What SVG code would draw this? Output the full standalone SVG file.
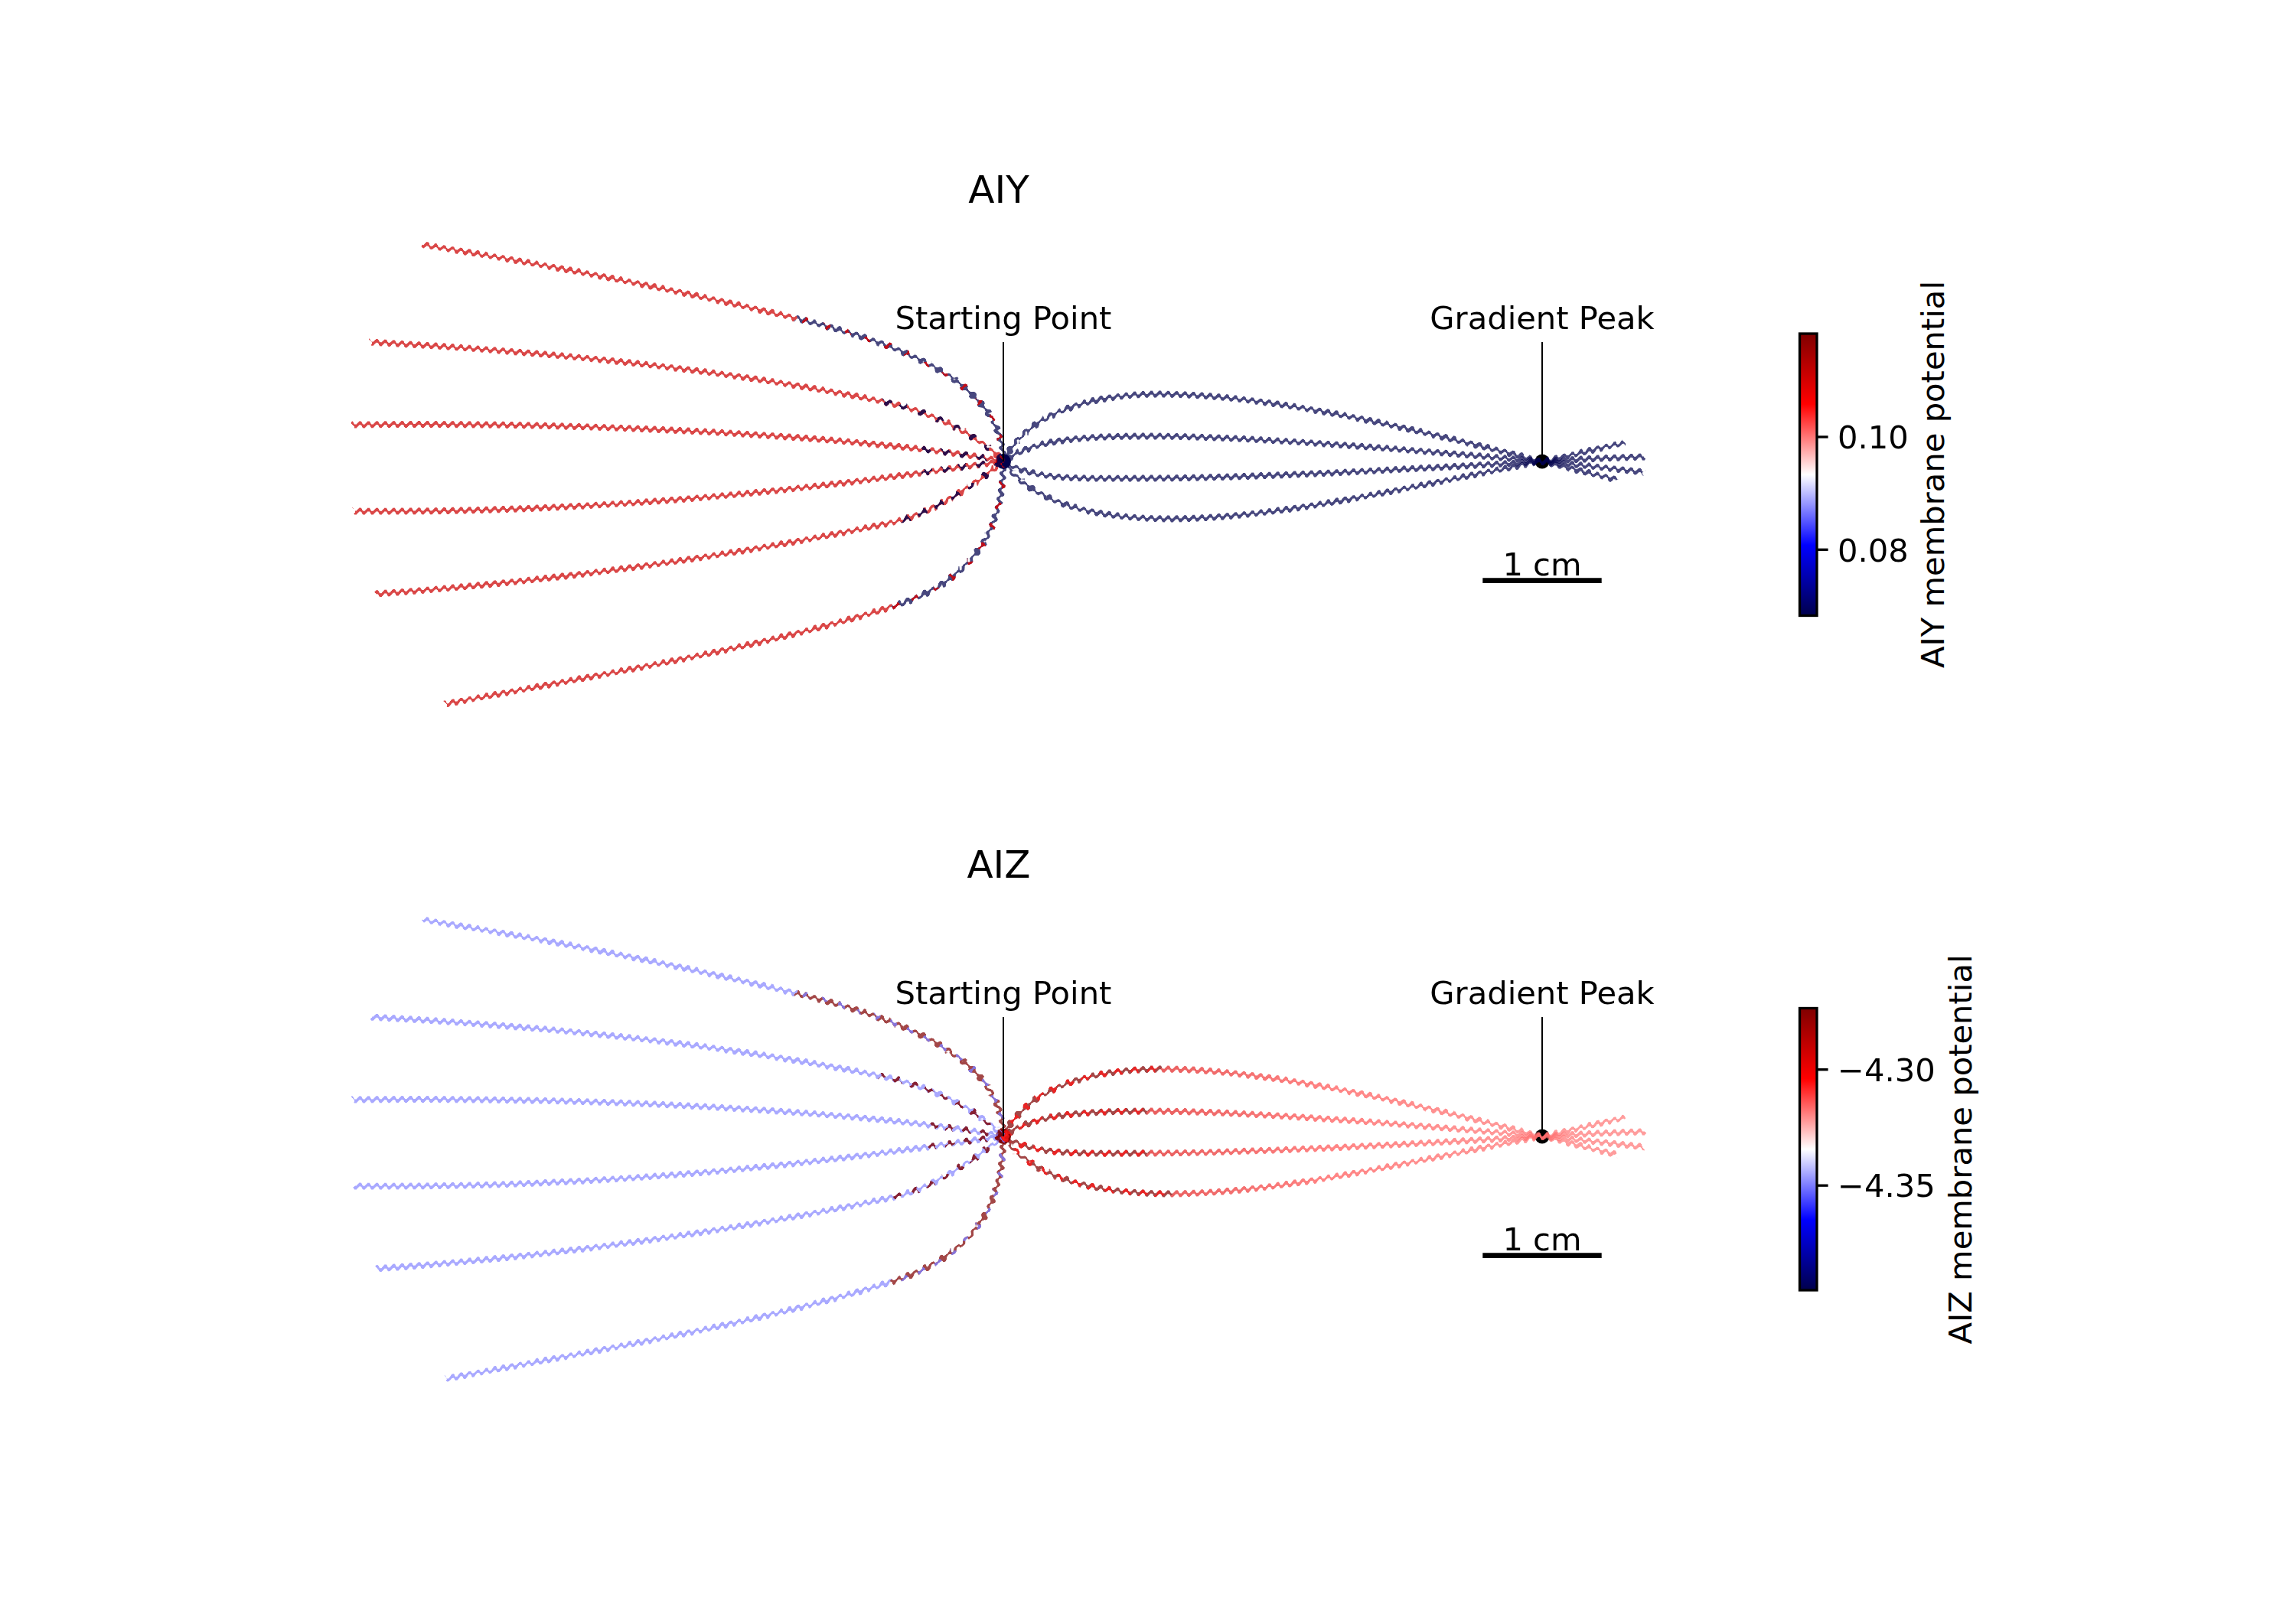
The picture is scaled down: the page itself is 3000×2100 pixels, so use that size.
<svg xmlns="http://www.w3.org/2000/svg" width="3000" height="2100" viewBox="0 0 3000 2100">
<style>
text{font-family:"DejaVu Sans","Liberation Sans",sans-serif;fill:#000}
.ttl{font-size:50px;text-anchor:middle}
.lbl{font-size:41.67px;text-anchor:middle}
.tick{font-size:41.67px}
.ann{stroke:#000;stroke-width:2;fill:none}
.bar{stroke:#000;stroke-width:6.7}
.tk{stroke:#000;stroke-width:3.3}
.cb{stroke:#000;stroke-width:3.3}
.w{fill:none;stroke-width:4.8}
.tRed{stroke:#cc0000;stroke-opacity:.72}
.tNavy{stroke:#00004c;stroke-opacity:.72}
.tRedD{stroke:#dd0000;stroke-opacity:.8;stroke-dasharray:6 22}
.tNavyD{stroke:#00004c;stroke-opacity:.8;stroke-dasharray:10 14}
.bLav{stroke:#8080ff;stroke-opacity:.68}
.bDark{stroke:#800000;stroke-opacity:.72}
.bLavD{stroke:#8080ff;stroke-opacity:.8;stroke-dasharray:6 18}
.bDarkD{stroke:#800000;stroke-opacity:.8;stroke-dasharray:9 13}
.bRedD{stroke:#ff1a1a;stroke-opacity:.75;stroke-dasharray:10 12}
.bSal{stroke:url(#salmon);stroke-opacity:.68}
</style>
<defs>
<linearGradient id="cmap" x1="0" y1="1" x2="0" y2="0">
<stop offset="0" stop-color="#00004c"/>
<stop offset="0.25" stop-color="#0000ff"/>
<stop offset="0.5" stop-color="#ffffff"/>
<stop offset="0.75" stop-color="#ff0000"/>
<stop offset="1" stop-color="#800000"/>
</linearGradient>
<linearGradient id="salmon" gradientUnits="userSpaceOnUse" x1="1500" y1="0" x2="2020" y2="0">
<stop offset="0" stop-color="#dd1010"/>
<stop offset="0.45" stop-color="#ff4a4a"/>
<stop offset="1" stop-color="#ff6e6e"/>
</linearGradient>
<linearGradient id="ga" gradientUnits="userSpaceOnUse" x1="0" y1="0" x2="0" y2="11">
<stop offset="0" stop-color="rgb(128,0,0)"/>
<stop offset="0.125" stop-color="rgb(218,0,0)"/>
<stop offset="0.25" stop-color="rgb(255,0,0)"/>
<stop offset="0.375" stop-color="rgb(218,0,0)"/>
<stop offset="0.5" stop-color="rgb(128,0,0)"/>
<stop offset="0.625" stop-color="rgb(37,0,0)"/>
<stop offset="0.75" stop-color="rgb(0,0,0)"/>
<stop offset="0.875" stop-color="rgb(37,0,0)"/>
<stop offset="1" stop-color="rgb(128,0,0)"/>
</linearGradient>
<linearGradient id="gb" gradientUnits="userSpaceOnUse" x1="0" y1="0" x2="11" y2="0">
<stop offset="0" stop-color="rgb(0,128,0)"/>
<stop offset="0.125" stop-color="rgb(0,37,0)"/>
<stop offset="0.25" stop-color="rgb(0,0,0)"/>
<stop offset="0.375" stop-color="rgb(0,37,0)"/>
<stop offset="0.5" stop-color="rgb(0,128,0)"/>
<stop offset="0.625" stop-color="rgb(0,218,0)"/>
<stop offset="0.75" stop-color="rgb(0,255,0)"/>
<stop offset="0.875" stop-color="rgb(0,218,0)"/>
<stop offset="1" stop-color="rgb(0,128,0)"/>
</linearGradient>
<filter id="wig" filterUnits="userSpaceOnUse" primitiveUnits="userSpaceOnUse" x="0" y="0" width="3000" height="2100" color-interpolation-filters="sRGB">
<feOffset in="SourceGraphic" dx="0" dy="0" x="0" y="0" width="11" height="11" result="ta"/>
<feTile in="ta" x="0" y="0" width="3000" height="2100" result="ma"/>
<feOffset in="SourceGraphic" dx="0" dy="0" x="0" y="22" width="11" height="11" result="tb"/>
<feTile in="tb" x="0" y="0" width="3000" height="2100" result="mb"/>
<feComposite in="ma" in2="mb" operator="arithmetic" k1="0" k2="1" k3="1" k4="0" result="map"/>
<feDisplacementMap in="SourceGraphic" in2="map" scale="4.6" xChannelSelector="R" yChannelSelector="G" x="60" y="60" width="2940" height="2040"/>
</filter>
<g id="geoLOuter" fill="none">
<path d="M1040,416 C885,379 711,345 553,320"/>
<path d="M1150,524 C934.4,480 703.6,458.7 484,447"/>
<path d="M1205.75,587.2 C1058.19,570 790.25,551.25 461,555"/>
<path d="M1205.77,617.52 C1058.25,638 790.5,671 462,668"/>
<path d="M1165,683 C949.8,728.8 710.6,761.3 491,776"/>
<path d="M1165,793 C984.5,850 768.6,884.3 582,920"/>
</g>
<g id="geoLMid" fill="none">
<path d="M1311,603 C1268.6,560.6 1208.8,536 1150,524"/>
<path d="M1311,603 C1290.75,598.5 1254.94,592.94 1205.75,587.2"/>
<path d="M1311,603 C1290.75,605.25 1254.94,610.69 1205.77,617.52"/>
<path d="M1311,603 C1268,637.7 1213.9,672.6 1165,683"/>
</g>
<g id="geoLEdge" fill="none">
<path d="M1311,603 C1311,493 1156,444 1040,416"/>
<path d="M1311,603 C1311,723 1241.3,768.9 1165,793"/>
</g>
<g id="geoRIn" fill="none">
<path d="M1311,603 C1340,540 1426,515 1516,515"/>
<path d="M1311,603 C1349.5,661 1440,678 1530,678"/>
<path d="M1311,603 C1351,573 1420,570 1500,570"/>
<path d="M1311,603 C1353.5,629.5 1420,625 1500,625"/>
</g>
<g id="geoROut" fill="none">
<path d="M1516,515 C1666,515 1869.7,565.8 2015,603 C2044,610.4 2085,620 2113,627"/>
<path d="M1530,678 C1680,678 1867.4,629.9 2015,603 C2049.4,596.7 2090,585 2122,579"/>
<path d="M1500,570 C1640,570 1875.6,590.7 2015,603 C2055,606.5 2105,612 2148,617"/>
<path d="M1500,625 C1640,625 1875.6,611.4 2015,603 C2055,600.6 2105,598 2150,597"/>
</g>
</defs>
<rect x="0" y="0" width="3000" height="2100" fill="#fff"/>

<g id="markers">
<circle cx="1311" cy="603" r="10" fill="#00004c"/>
<circle cx="2015" cy="603" r="9.5" fill="#000"/>
<circle cx="1311" cy="1485" r="10" fill="#800000"/>
<circle cx="2015" cy="1485" r="9.5" fill="#000"/>
</g>

<g id="trajectories" filter="url(#wig)">
<rect x="0" y="0" width="11" height="11" fill="url(#ga)"/>
<rect x="0" y="22" width="11" height="11" fill="url(#gb)"/>
<g id="aiy-paths" class="w">
<use href="#geoLOuter" class="tRed"/>
<use href="#geoLMid" class="tRed"/>
<use href="#geoLMid" class="tNavyD"/>
<use href="#geoLEdge" class="tNavy"/>
<use href="#geoLEdge" class="tRedD"/>
<use href="#geoRIn" class="tNavy"/>
<use href="#geoROut" class="tNavy"/>
</g>
<g id="aiz-paths" class="w" transform="translate(0,882)">
<use href="#geoLOuter" class="bLav"/>
<use href="#geoLMid" class="bLav"/>
<use href="#geoLMid" class="bDarkD"/>
<use href="#geoLEdge" class="bDark"/>
<use href="#geoLEdge" class="bLavD"/>
<use href="#geoRIn" class="bDark"/>
<use href="#geoRIn" class="bRedD"/>
<use href="#geoROut" class="bSal"/>
</g>
</g>

<g id="annotations">
<line class="ann" x1="1311" y1="447" x2="1311" y2="603"/>
<line class="ann" x1="2015" y1="447" x2="2015" y2="603"/>
<line class="ann" x1="1311" y1="1329" x2="1311" y2="1485"/>
<line class="ann" x1="2015" y1="1329" x2="2015" y2="1485"/>
</g>

<g id="panel-aiy">
<text class="ttl" x="1305" y="265">AIY</text>
<text class="lbl" x="1311" y="430">Starting Point</text>
<text class="lbl" x="2015" y="430">Gradient Peak</text>
<line class="bar" x1="1937.3" y1="758.7" x2="2092.7" y2="758.7"/>
<text class="lbl" x="2015" y="752">1 cm</text>
</g>

<g id="panel-aiz">
<text class="ttl" x="1305" y="1147">AIZ</text>
<text class="lbl" x="1311" y="1312">Starting Point</text>
<text class="lbl" x="2015" y="1312">Gradient Peak</text>
<line class="bar" x1="1937.3" y1="1640.7" x2="2092.7" y2="1640.7"/>
<text class="lbl" x="2015" y="1634">1 cm</text>
</g>

<g id="colorbar-aiy">
<rect class="cb" x="2351.5" y="436" width="22.5" height="368.5" fill="url(#cmap)"/>
<line class="tk" x1="2374" y1="571" x2="2388.6" y2="571"/>
<line class="tk" x1="2374" y1="718.3" x2="2388.6" y2="718.3"/>
<text class="tick" x="2401" y="586.2">0.10</text>
<text class="tick" x="2401" y="733.5">0.08</text>
<text class="lbl" transform="translate(2540,620) rotate(-90)">AIY membrane potential</text>
</g>

<g id="colorbar-aiz">
<rect class="cb" x="2351.5" y="1317.5" width="22.5" height="368.5" fill="url(#cmap)"/>
<line class="tk" x1="2374" y1="1397.7" x2="2388.6" y2="1397.7"/>
<line class="tk" x1="2374" y1="1549.2" x2="2388.6" y2="1549.2"/>
<text class="tick" x="2401" y="1412.9">−4.30</text>
<text class="tick" x="2401" y="1564.4">−4.35</text>
<text class="lbl" transform="translate(2576,1502) rotate(-90)">AIZ membrane potential</text>
</g>
</svg>
